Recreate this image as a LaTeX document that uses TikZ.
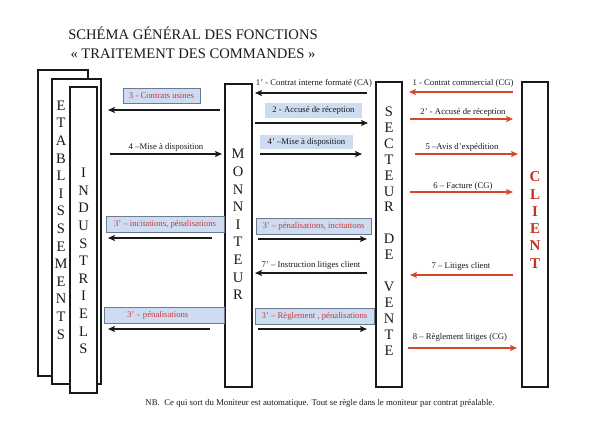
\documentclass[tikz,border=0pt]{standalone}
\usepackage{fontspec}
\setmainfont{Liberation Serif}
\usetikzlibrary{arrows.meta}
\definecolor{lred}{RGB}{205,55,55}
\definecolor{ared}{RGB}{212,72,42}
\definecolor{cred}{RGB}{200,48,30}
\definecolor{boxblue}{RGB}{206,220,242}
\definecolor{boxedge}{RGB}{110,122,145}
\definecolor{ink}{RGB}{25,25,25}
\begin{document}
\begin{tikzpicture}[x=1pt,y=-1pt,
  column/.style={draw=ink, line width=1.7pt, fill=white, inner sep=0pt},
  vletters/.style={align=center, inner sep=0pt, text=ink, font=\fontsize{14.5}{17.6}\selectfont},
  lbl/.style={font=\fontsize{8.7}{10}\selectfont, inner sep=0pt, text=ink},
  tagbox/.style={fill=boxblue, draw=boxedge, line width=0.8pt, inner sep=0pt, text=lred, font=\fontsize{8.7}{10}\selectfont},
  plainbox/.style={fill=boxblue, inner sep=0pt, text=ink, font=\fontsize{8.7}{10}\selectfont},
  blk/.style={-{Stealth[length=7pt,width=6pt,inset=1.5pt]}, line width=1.7pt, draw=ink},
  rdarr/.style={-{Stealth[length=7pt,width=6pt,inset=1.5pt]}, line width=1.7pt, draw=ared}
]
\useasboundingbox (0,0) rectangle (600,423);

% title
\node[align=center, inner sep=0pt, text=ink, font=\fontsize{14.6}{18.5}\selectfont] (title) at (193,43)
  {SCHÉMA GÉNÉRAL DES FONCTIONS\\« TRAITEMENT DES COMMANDES »};

% columns
\node[column, minimum width=50pt, minimum height=306pt] (etab) at (63,223) {};
\node[column, minimum width=49pt, minimum height=305pt] (etab2) at (76.5,231.5) {};
\node[column, minimum width=27pt, minimum height=306pt] (ind) at (83.5,240) {};
\node[column, minimum width=27pt, minimum height=303pt] (mon) at (238.5,235.5) {};
\node[column, minimum width=26pt, minimum height=305pt] (sec) at (389,234.5) {};
\node[column, minimum width=26pt, minimum height=305pt] (cli) at (535,234.5) {};

% column texts
\node[vletters] (tetab) at (61,220) {E\\T\\A\\B\\L\\I\\S\\S\\E\\M\\E\\N\\T\\S};
\node[vletters] (tind) at (83.5,261) {I\\N\\D\\U\\S\\T\\R\\I\\E\\L\\S};
\node[vletters] (tmon) at (238,224.5) {M\\O\\N\\N\\I\\T\\E\\U\\R};
\node[vletters, font=\fontsize{14.5}{15.9}\selectfont] (tsec) at (389,231) {S\\E\\C\\T\\E\\U\\R\\\mbox{}\\D\\E\\\mbox{}\\V\\E\\N\\T\\E};
\node[vletters, text=cred, font=\fontsize{15}{17.3}\selectfont\bfseries] (tcli) at (535,220) {C\\L\\I\\E\\N\\T};

% ---- between industrial establishments and moniteur
\node[tagbox, minimum width=77pt, minimum height=15pt] (l3) at (161.5,95.5) {3 - Contrats usines};
\coordinate (a3s) at (220,110); \coordinate (a3e) at (108,110);
\draw[blk] (a3s) -- (a3e);

\node[lbl] (l4) at (166,147) {4 –Mise à disposition};
\coordinate (a4s) at (110,154); \coordinate (a4e) at (222,154);
\draw[blk] (a4s) -- (a4e);

\node[tagbox, minimum width=118pt, minimum height=16pt] (l3b) at (165,224) {3' – incitations, pénalisations};
\coordinate (a3bs) at (212,238); \coordinate (a3be) at (108,238);
\draw[blk] (a3bs) -- (a3be);

\node[tagbox, minimum width=120pt, minimum height=16pt, text width=112pt, align=left] (l3c) at (164,315) {\hspace*{19pt}3' - pénalisations};
\coordinate (a3cs) at (210,329); \coordinate (a3ce) at (108,329);
\draw[blk] (a3cs) -- (a3ce);

% ---- between moniteur and secteur de vente
\node[lbl] (l1p) at (314,83) {1' - Contrat interne formaté (CA)};
\coordinate (a1ps) at (367,93); \coordinate (a1pe) at (255,93);
\draw[blk] (a1ps) -- (a1pe);

\node[plainbox, minimum width=97pt, minimum height=15pt] (l2) at (313.5,110.5) {2 - Accusé de réception};
\coordinate (a2s) at (255,123); \coordinate (a2e) at (368,123);
\draw[blk] (a2s) -- (a2e);

\node[plainbox, minimum width=93pt, minimum height=14pt] (l4p) at (306.5,142) {4' –Mise à disposition};
\coordinate (a4ps) at (260,154); \coordinate (a4pe) at (362,154);
\draw[blk] (a4ps) -- (a4pe);

\node[tagbox, minimum width=115pt, minimum height=16pt] (l3p) at (313.5,226) {3' – pénalisations, incitations};
\coordinate (a3ps) at (258,239); \coordinate (a3pe) at (367,239);
\draw[blk] (a3ps) -- (a3pe);

\node[lbl] (l7p) at (311,265) {7' – Instruction litiges client};
\coordinate (a7ps) at (367,273); \coordinate (a7pe) at (255,273);
\draw[blk] (a7ps) -- (a7pe);

\node[tagbox, minimum width=119pt, minimum height=16pt] (l3pp) at (314.5,316) {3' – Règlement , pénalisations};
\coordinate (a3pps) at (258,329); \coordinate (a3ppe) at (367,329);
\draw[blk] (a3pps) -- (a3ppe);

% ---- between secteur de vente and client
\node[lbl] (l1) at (463,83) {1 - Contrat commercial (CG)};
\coordinate (a1s) at (513,92); \coordinate (a1e) at (409,92);
\draw[rdarr] (a1s) -- (a1e);

\node[lbl] (l2p) at (463,112) {2' - Accusé de réception};
\coordinate (a2ps) at (410,119); \coordinate (a2pe) at (513,119);
\draw[rdarr] (a2ps) -- (a2pe);

\node[lbl] (l5) at (462,147) {5 –Avis d'expédition};
\coordinate (a5s) at (415,154); \coordinate (a5e) at (518,154);
\draw[rdarr] (a5s) -- (a5e);

\node[lbl] (l6) at (463,186) {6 – Facture (CG)};
\coordinate (a6s) at (410,192); \coordinate (a6e) at (513,192);
\draw[rdarr] (a6s) -- (a6e);

\node[lbl] (l7) at (461,266) {7 – Litiges client};
\coordinate (a7s) at (513,275); \coordinate (a7e) at (410,275);
\draw[rdarr] (a7s) -- (a7e);

\node[lbl] (l8) at (460,337) {8 – Règlement litiges (CG)};
\coordinate (a8s) at (408,348); \coordinate (a8e) at (517,348);
\draw[rdarr] (a8s) -- (a8e);

% note
\node[lbl, font=\fontsize{8.8}{10}\selectfont] (nb) at (320,403)
  {NB.\ \ Ce qui sort du Moniteur est automatique. Tout se règle dans le moniteur par contrat préalable.};
\end{tikzpicture}
\end{document}
